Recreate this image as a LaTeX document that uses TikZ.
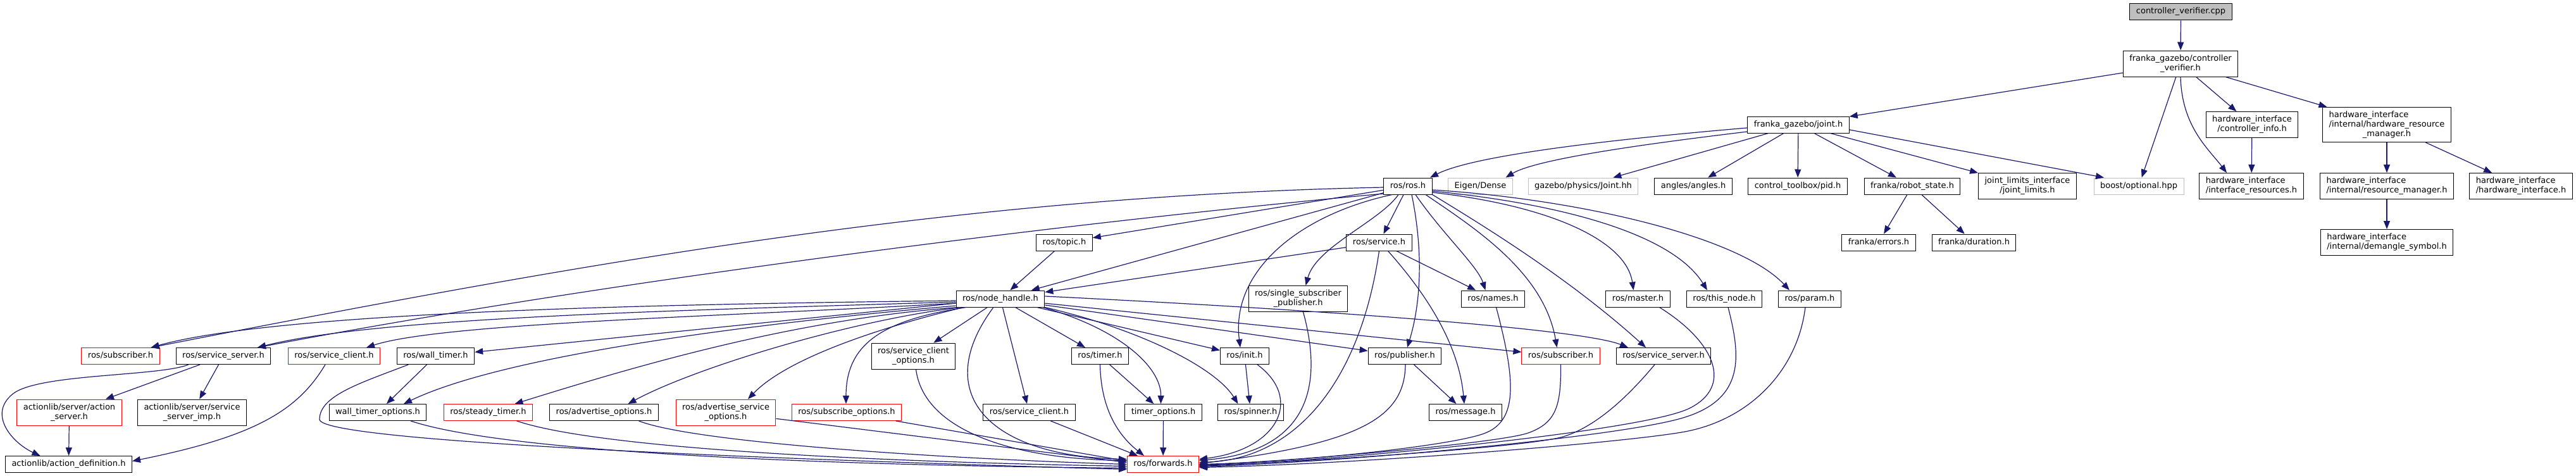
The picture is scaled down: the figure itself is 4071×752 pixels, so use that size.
\documentclass[tikz,border=0pt]{standalone}
\usepackage{fontspec}
\setmainfont{DejaVu Sans}
\usetikzlibrary{arrows.meta}
\definecolor{edgeblue}{RGB}{25,25,112}
\definecolor{hdrgrey}{RGB}{191,191,191}
\definecolor{hdrred}{RGB}{255,0,0}
\newcommand{\twolines}[2]{\begin{tabular}{@{}l@{}}#1\\\multicolumn{1}{@{}c@{}}{#2}\end{tabular}}
\newcommand{\threelines}[3]{\begin{tabular}{@{}l@{}}#1\\#2\\\multicolumn{1}{@{}c@{}}{#3}\end{tabular}}
\newcommand{\hdrnode}[4][]{\node[hdr,#1] (#2) at (#3) {#4};}
\tikzset{
  hdr/.style={draw=black, fill=white, line width=1pt, inner xsep=10pt, inner ysep=2pt,
    minimum height=26pt, font=\fontsize{13}{15}\selectfont, execute at begin node=\strut},
  trunc/.style={draw=hdrred},
  ext/.style={draw=hdrgrey},
  mainfile/.style={fill=hdrgrey},
  twoline/.style={minimum height=41pt},
  threeline/.style={minimum height=55pt},
  inc/.style={draw=edgeblue, line width=1.2pt, -{Triangle[length=13pt,width=10pt]}}
}

\begin{document}
\begin{tikzpicture}[x=1pt,y=-1pt]
\useasboundingbox (0,0) rectangle (4071,752);
% rank 0 to 2
\hdrnode[mainfile]{cpp}{3446.5,19}{controller\_verifier.cpp}
\hdrnode[twoline]{cvh}{3446,100.5}{\twolines{franka\_gazebo/controller}{\_verifier.h}}
\hdrnode{joint}{2842,197}{franka\_gazebo/joint.h}
\hdrnode[twoline]{cinfo}{3559,197}{\twolines{hardware\_interface}{/controller\_info.h}}
\hdrnode[threeline]{hwrm}{3772,197}{\threelines{hardware\_interface}{/internal/hardware\_resource}{\_manager.h}}
% rank 3
\hdrnode{rosh}{2225,294}{ros/ros.h}
\hdrnode[ext]{eigen}{2339.5,294}{Eigen/Dense}
\hdrnode[ext]{gzjoint}{2502,294}{gazebo/physics/Joint.hh}
\hdrnode{angles}{2676,294}{angles/angles.h}
\hdrnode{pid}{2841,294}{control\_toolbox/pid.h}
\hdrnode{rstate}{3022,294}{franka/robot\_state.h}
\hdrnode[twoline]{jlimits}{3204,294}{\twolines{joint\_limits\_interface}{/joint\_limits.h}}
\hdrnode[ext]{boostopt}{3380,294}{boost/optional.hpp}
\hdrnode[twoline]{ifres}{3558,294}{\twolines{hardware\_interface}{/interface\_resources.h}}
\hdrnode[twoline]{resmgr}{3772,294}{\twolines{hardware\_interface}{/internal/resource\_manager.h}}
\hdrnode[twoline]{hwif}{3984,294}{\twolines{hardware\_interface}{/hardware\_interface.h}}
% rank 4
\hdrnode{topic}{1682,383}{ros/topic.h}
\hdrnode{service}{2179.5,383}{ros/service.h}
\hdrnode{errors}{2969,383}{franka/errors.h}
\hdrnode{duration}{3119.5,383}{franka/duration.h}
\hdrnode[twoline]{demangle}{3772,383}{\twolines{hardware\_interface}{/internal/demangle\_symbol.h}}
% rank 5
\hdrnode{nh}{1581,472}{ros/node\_handle.h}
\hdrnode[twoline]{ssp}{2051.5,472}{\twolines{ros/single\_subscriber}{\_publisher.h}}
\hdrnode{names}{2359.5,472}{ros/names.h}
\hdrnode{master}{2588.5,472}{ros/master.h}
\hdrnode{thisnode}{2725,472}{ros/this\_node.h}
\hdrnode{param}{2860,472}{ros/param.h}
% rank 6
\hdrnode[trunc]{subL}{190.5,562.5}{ros/subscriber.h}
\hdrnode{ssrvL}{353,562.5}{ros/service\_server.h}
\hdrnode[trunc]{sclL}{528,562.5}{ros/service\_client.h}
\hdrnode{walltimer}{688.5,562.5}{ros/wall\_timer.h}
\hdrnode[twoline]{sco}{1443.5,562.5}{\twolines{ros/service\_client}{\_options.h}}
\hdrnode{timer}{1738.5,562.5}{ros/timer.h}
\hdrnode{init}{1967,562.5}{ros/init.h}
\hdrnode{pub}{2220,562.5}{ros/publisher.h}
\hdrnode[trunc]{subR}{2466.5,562.5}{ros/subscriber.h}
\hdrnode{ssrvR}{2629,562.5}{ros/service\_server.h}
% rank 7
\hdrnode[trunc,twoline]{actsrv}{109.5,651.5}{\twolines{actionlib/server/action}{\_server.h}}
\hdrnode[twoline]{ssimp}{303.5,651.5}{\twolines{actionlib/server/service}{\_server\_imp.h}}
\hdrnode{wto}{597,651.5}{wall\_timer\_options.h}
\hdrnode[trunc]{steady}{771.5,651.5}{ros/steady\_timer.h}
\hdrnode{advopt}{954.5,651.5}{ros/advertise\_options.h}
\hdrnode[trunc,twoline]{advsrv}{1147,651.5}{\twolines{ros/advertise\_service}{\_options.h}}
\hdrnode[trunc]{subopt}{1338,651.5}{ros/subscribe\_options.h}
\hdrnode{sclient}{1626.5,651.5}{ros/service\_client.h}
\hdrnode{topt}{1838.5,651.5}{timer\_options.h}
\hdrnode{spinner}{1976.5,651.5}{ros/spinner.h}
\hdrnode{message}{2316,651.5}{ros/message.h}
% rank 8
\hdrnode{actdef}{108.5,733.5}{actionlib/action\_definition.h}
\hdrnode[trunc]{fwd}{1838,733.5}{ros/forwards.h}

% top of the graph
\draw[inc] (cpp) -- (cvh);
\draw[inc] (cvh) -- (joint);
\draw[inc] (cvh) -- (boostopt);
\draw[inc] (cvh.south) .. controls (3448,200) and (3490,235) .. ([xshift=-39pt]ifres.north);
\draw[inc] (cvh) -- (cinfo);
\draw[inc] (cvh) -- (hwrm);
\draw[inc] (cinfo) -- (ifres);
\draw[inc] (hwrm) -- (resmgr);
\draw[inc] (hwrm) -- (hwif);
\draw[inc] (resmgr) -- (demangle);
% franka_gazebo/joint.h
\draw[inc] ([yshift=-5pt]joint.west) .. controls (2550,220) and (2330,245) .. ([xshift=35pt]rosh.north);
\draw[inc] ([yshift=-11pt]joint.west) .. controls (2620,225) and (2430,250) .. ([xshift=40pt]eigen.north);
\draw[inc] (joint) -- (gzjoint);
\draw[inc] (joint) -- (angles);
\draw[inc] (joint) -- (pid);
\draw[inc] (joint) -- (rstate);
\draw[inc] (joint) -- (jlimits);
\draw[inc] ([yshift=-8pt]joint.east) -- ([xshift=-55pt]boostopt.north);
\draw[inc] (rstate) -- (errors);
\draw[inc] (rstate) -- (duration);
% ros/ros.h
\draw[inc] (rosh) -- (topic);
\draw[inc] (rosh) -- (nh);
\draw[inc] ([yshift=-2pt]rosh.west) .. controls (1500,310) and (900,420) .. ([xshift=48pt]subL.north);
\draw[inc] ([yshift=-12pt]rosh.west) .. controls (1600,360) and (900,455) .. ([xshift=54pt]ssrvL.north);
\draw[inc] ([xshift=-15pt]rosh.south) .. controls (2180,350) and (2080,390) .. ([xshift=12pt]ssp.north);
\draw[inc] (rosh) -- (service);
\draw[inc] ([xshift=6pt]rosh.south) .. controls (2250,400) and (2245,480) .. ([xshift=4pt]pub.north);
\draw[inc] ([xshift=12pt]rosh.south) .. controls (2280,370) and (2335,420) .. ([xshift=-12pt]names.north);
\draw[inc] ([xshift=28pt]rosh.south) .. controls (2330,360) and (2440,430) .. ([xshift=-6pt]subR.north);
\draw[inc] (rosh.south east) .. controls (2350,360) and (2480,440) .. ([xshift=-28pt]ssrvR.north);
\draw[inc] ([yshift=-10pt]rosh.east) .. controls (2450,325) and (2570,380) .. ([xshift=-7pt]master.north);
\draw[inc] ([yshift=-8pt]rosh.east) .. controls (2450,320) and (2640,365) .. ([xshift=-27pt]thisnode.north);
\draw[inc] ([yshift=-6pt]rosh.east) .. controls (2500,315) and (2750,375) .. ([xshift=-32pt]param.north);
\draw[inc] ([xshift=-25pt]rosh.south) .. controls (2050,340) and (1945,430) .. ([xshift=-7pt]init.north);
% ros/service.h and ros/topic.h
\draw[inc] (service) -- (nh);
\draw[inc] (service) -- (names);
\draw[inc] ([xshift=14pt]service.south) .. controls (2250,460) and (2305,540) .. ([xshift=-2pt]message.north);
\draw[inc] (service.south) .. controls (2150,600) and (2050,725) .. ([yshift=3pt]fwd.east);
\draw[inc] (topic) -- (nh);
\draw[inc] ([xshift=8pt]ssp.south) .. controls (2100,640) and (2040,715) .. ([yshift=6pt]fwd.east);
% ros/node_handle.h
\draw[inc] ([yshift=-3pt]nh.west) .. controls (1100,480) and (450,490) .. ([xshift=48pt]subL.north);
\draw[inc] ([yshift=-5pt]nh.west) .. controls (1100,490) and (600,500) .. ([xshift=54pt]ssrvL.north);
\draw[inc] ([yshift=-7pt]nh.west) .. controls (1150,500) and (700,510) .. ([xshift=51pt]sclL.north);
\draw[inc] (nh) -- (walltimer);
\draw[inc] ([yshift=-11pt]nh.west) .. controls (1200,510) and (800,560) .. ([xshift=41pt]wto.north);
\draw[inc] ([xshift=-66pt]nh.south) .. controls (1250,505) and (1000,580) .. ([xshift=42pt]steady.north);
\draw[inc] ([xshift=-62pt]nh.south) .. controls (1350,505) and (1100,580) .. ([xshift=38pt]advopt.north);
\draw[inc] ([xshift=-58pt]nh.south) .. controls (1420,510) and (1250,560) .. ([xshift=35pt]advsrv.north);
\draw[inc] ([xshift=-54pt]nh.south) .. controls (1400,505) and (1337,540) .. ([xshift=-1pt]subopt.north);
\draw[inc] (nh) -- (sco);
\draw[inc] ([xshift=-11pt]nh.south) .. controls (1470,620) and (1560,720) .. ([yshift=8pt]fwd.west);
\draw[inc] (nh) -- (sclient);
\draw[inc] (nh) -- (timer);
\draw[inc] ([xshift=67pt]nh.south) .. controls (1770,520) and (1835,580) .. ([xshift=-4pt]topt.north);
\draw[inc] (nh.south east) .. controls (1800,520) and (1920,580) .. ([xshift=-20pt]spinner.north);
\draw[inc] (nh) -- (init);
\draw[inc] (nh) -- (pub);
\draw[inc] (nh) -- (subR);
\draw[inc] ([yshift=4pt]nh.east) .. controls (2100,490) and (2500,520) .. ([xshift=-56pt]ssrvR.north);
% left part
\draw[inc] (ssrvL) -- (actsrv);
\draw[inc] (ssrvL) -- (ssimp);
\draw[inc] ([xshift=-55pt]ssrvL.south) .. controls (250,595) and (60,590) .. (20,622.5) .. controls (-20,655) and (20,700) .. ([xshift=-45pt]actdef.north);
\draw[inc] (actsrv) -- (actdef);
\draw[inc] ([xshift=-14pt]sclL.south) .. controls (470,650) and (400,690) .. ([yshift=5pt]actdef.east);
\draw[inc] (walltimer) -- (wto);
\draw[inc] ([xshift=-43pt]walltimer.south) .. controls (570,605) and (505,625) .. (505,662.5) .. controls (505,700) and (1300,728) .. ([yshift=-8pt]fwd.west);
% into ros/forwards.h
\draw[inc] ([xshift=52pt]wto.south) .. controls (800,715) and (1300,735) .. ([yshift=-6pt]fwd.west);
\draw[inc] ([xshift=45pt]steady.south) .. controls (950,710) and (1400,730) .. ([yshift=-3pt]fwd.west);
\draw[inc] ([xshift=55pt]advopt.south) .. controls (1100,700) and (1500,725) .. (fwd.west);
\draw[inc] (advsrv) -- ([yshift=3pt]fwd.west);
\draw[inc] (subopt) -- ([yshift=5pt]fwd.west);
\draw[inc] ([xshift=4pt]sco.south) .. controls (1460,680) and (1600,725) .. ([yshift=6pt]fwd.west);
\draw[inc] (sclient) -- ([xshift=-40pt]fwd.north);
\draw[inc] (timer.south) .. controls (1740,650) and (1770,690) .. ([xshift=-30pt]fwd.north);
\draw[inc] (timer) -- (topt);
\draw[inc] (topt) -- (fwd);
\draw[inc] (init) -- (spinner);
\draw[inc] ([xshift=20pt]init.south) .. controls (2060,630) and (2020,710) .. ([yshift=8pt]fwd.east);
\draw[inc] (pub) -- (message);
\draw[inc] ([xshift=1pt]pub.south) .. controls (2220,660) and (2150,700) .. ([yshift=1pt]fwd.east);
\draw[inc] ([xshift=5pt]names.south) .. controls (2395,600) and (2400,665) .. (2345,685) .. controls (2290,705) and (2050,730) .. (fwd.east);
\draw[inc] (subR.south) .. controls (2467,640) and (2460,668) .. (2415,684) .. controls (2370,700) and (2050,728) .. ([yshift=-1pt]fwd.east);
\draw[inc] ([xshift=-14pt]ssrvR.south) .. controls (2570,630) and (2520,675) .. (2470,690) .. controls (2420,705) and (2100,728) .. ([yshift=-2pt]fwd.east);
\draw[inc] ([xshift=34pt]master.south) .. controls (2710,540) and (2740,610) .. (2670,645) .. controls (2600,680) and (2150,725) .. ([yshift=-3pt]fwd.east);
\draw[inc] ([xshift=6pt]thisnode.south) .. controls (2750,560) and (2760,630) .. (2660,660) .. controls (2560,690) and (2150,728) .. ([yshift=-4pt]fwd.east);
\draw[inc] ([xshift=-7pt]param.south) .. controls (2840,590) and (2760,665) .. (2660,682.5) .. controls (2560,700) and (2150,733) .. ([yshift=-5pt]fwd.east);
\end{tikzpicture}
\end{document}
